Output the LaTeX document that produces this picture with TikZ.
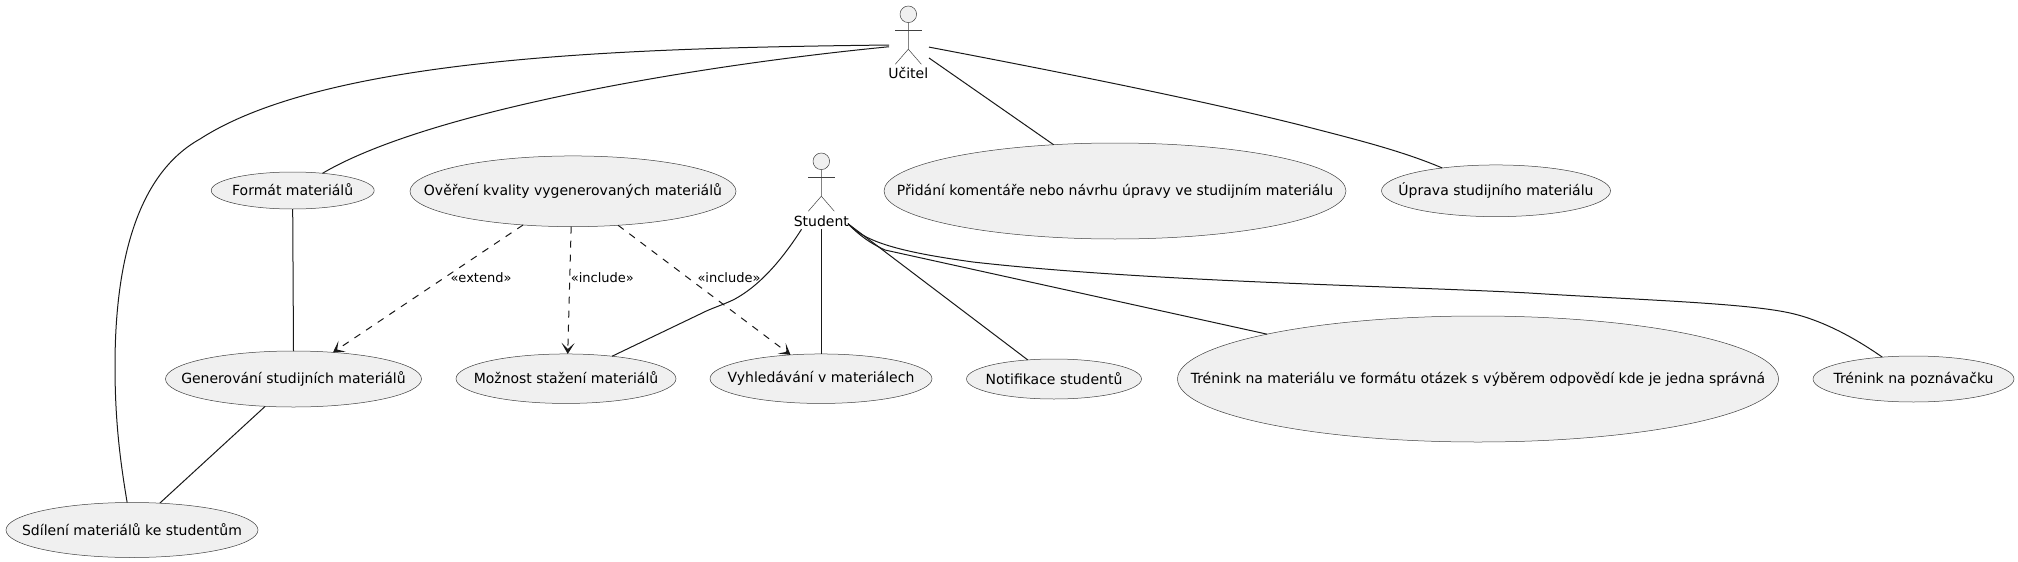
\documentclass[tikz,border=0pt]{standalone}
\usepackage{fontspec}
\setmainfont{DejaVu Sans}
\usetikzlibrary{arrows.meta,shapes.geometric}
\newcommand{\uctext}[1]{\makebox[0pt]{\raisebox{1.5pt}{#1}}}

\begin{document}
\begin{tikzpicture}[
  x=1pt, y=-1pt, font=\fontsize{14}{16}\selectfont,
  >={Stealth[length=11pt,width=13pt,inset=6pt]},
  usecase/.style={ellipse, draw=black!75, fill=black!6, line width=0.5pt, inner sep=0pt, outer sep=0pt, minimum width=#1},
  actorbox/.style={inner sep=0pt, outer sep=0pt},
  actorhead/.style={circle, draw=black!75, fill=black!6, line width=0.5pt, minimum size=16.6pt, inner sep=0pt, outer sep=0pt},
  stick/.style={draw=black!75, line width=0.5pt},
  assoc/.style={line width=1pt, draw=black!90},
  dep/.style={->, line width=1pt, draw=black!90, dash pattern=on 7pt off 7pt},
  t/.style={font=\fontsize{13}{15}\selectfont, inner sep=0pt},
]
\useasboundingbox (0,0) rectangle (2018,562);
% actors
\node[actorbox, minimum width=40pt, minimum height=80pt] (ucitel) at (909,45) {};
\node[actorhead] (ucitelhead) at (908.3,14.3) {};
\draw[stick] (ucitelhead.south) -- ++(0,26.6) -- ++(-13,15);
\draw[stick] (ucitelhead.south) ++(0,26.6) -- ++(13,15);
\draw[stick] (ucitelhead.south) ++(-13.3,7.3) -- ++(26.6,0);
\node[inner sep=0pt] (ucitellabel) at (908.3,73) {Učitel};
\node[actorbox, minimum width=54pt, minimum height=73.3pt] (student) at (821,192.65) {};
\node[actorhead] (studenthead) at (821.3,161.3) {};
\draw[stick] (studenthead.south) -- ++(0,26.6) -- ++(-13,15);
\draw[stick] (studenthead.south) ++(0,26.6) -- ++(13,15);
\draw[stick] (studenthead.south) ++(-13.3,7.3) -- ++(26.6,0);
\node[inner sep=0pt] (studentlabel) at (821.3,221) {Student};
% use cases
\node[usecase=163pt, minimum height=37pt] (format) at (292.7,190.5) {\uctext{Formát materiálů}};
\node[usecase=256pt, minimum height=56pt] (generovani) at (293.5,379) {\uctext{Generování studijních materiálů}};
\node[usecase=252pt, minimum height=55pt] (sdileni) at (132,530) {\uctext{Sdílení materiálů ke studentům}};
\node[usecase=326pt, minimum height=70.7pt] (overeni) at (573,191.3) {\uctext{Ověření kvality vygenerovaných materiálů}};
\node[usecase=220pt, minimum height=49.5pt] (moznost) at (566,378.7) {\uctext{Možnost stažení materiálů}};
\node[usecase=222pt, minimum height=49.5pt] (vyhledavani) at (821,378.7) {\uctext{Vyhledávání v materiálech}};
\node[usecase=462pt, minimum height=96pt] (pridani) at (1115,191) {\uctext{Přidání komentáře nebo návrhu úpravy ve studijním materiálu}};
\node[usecase=229pt, minimum height=51.7pt] (uprava) at (1496,190.8) {\uctext{Úprava studijního materiálu}};
\node[usecase=175pt, minimum height=40pt] (notifikace) at (1054,379) {\uctext{Notifikace studentů}};
\node[usecase=601pt, minimum height=126pt] (trenink) at (1478,379) {\uctext{Trénink na materiálu ve formátu otázek s výběrem odpovědí kde je jedna správná}};
\node[usecase=201pt, minimum height=46pt] (poznavacka) at (1913.5,379) {\uctext{Trénink na poznávačku}};
% ucitel
\draw[assoc] (ucitel.west) .. controls (640,48) and (330,55) .. (200,139) .. controls (130,178) and (115,280) .. (115,366) .. controls (115,420) and (120,460) .. (sdileni.100.7);
\draw[assoc] (ucitel.185) .. controls (700,65) and (430,110) .. (format.30);
\draw[assoc] (ucitel.-33) -- (pridani.143.7);
\draw[assoc] (ucitel.-6.6) .. controls (1060,72) and (1200,100) .. (1300,125) .. controls (1350,138) and (1400,150) .. (uprava.157);
% left column
\draw[assoc] (format.south) -- (generovani.north);
\draw[assoc] (generovani.224) -- (sdileni.44);
% dependencies
\draw[dep] (overeni.214) -- (generovani.34.7);
\draw[dep] (overeni.267) -- (moznost.86);
\draw[dep] (overeni.-37) -- (vyhledavani.142);
\node[t] (extendlabel) at (481,278) {«extend»};
\node[t] (includelabela) at (602.4,278) {«include»};
\node[t] (includelabelb) at (729,278) {«include»};
% student
\draw[assoc] (student.242) .. controls (785,255) and (762,285) .. (733,300) .. controls (720,306) and (712,308) .. (701.6,313.3) -- (moznost.26);
\draw[assoc] (student.south) -- (vyhledavani.north);
\draw[assoc] (student.-49.3) -- (notifikace.144);
\draw[assoc] (student.-49.3) .. controls (860,236) and (870,243) .. (885,250) -- (trenink.168);
\draw[assoc] (student.-49.3) .. controls (865,242) and (900,252) .. (973,262) .. controls (1150,282) and (1400,286) .. (1529,293) .. controls (1640,300) and (1745,303) .. (1790,313) .. controls (1822,320) and (1855,338) .. (poznavacka.145);
\end{tikzpicture}
\end{document}
